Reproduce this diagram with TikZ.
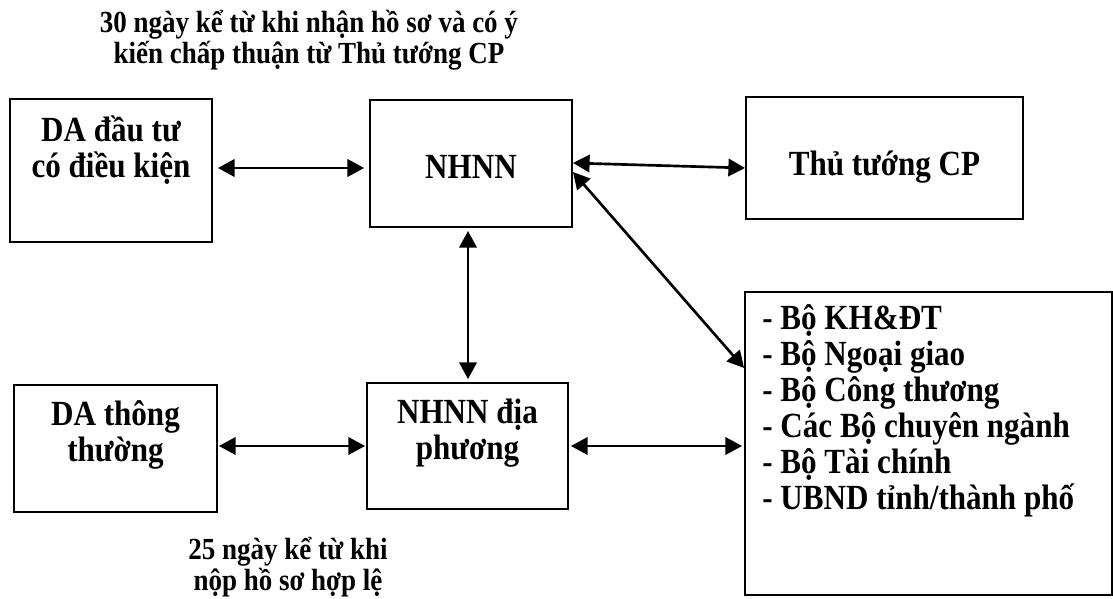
\documentclass[tikz,border=0pt]{standalone}
\usepackage{fontspec}
\setmainfont{Liberation Serif}[FakeStretch=0.88]
\usetikzlibrary{arrows.meta}
\begin{document}
\begin{tikzpicture}[x=0.75pt,y=-0.75pt,
  box/.style={draw, line width=1.4pt, rectangle, inner sep=0pt},
  lbl/.style={font=\fontsize{26.5pt}{27pt}\selectfont\bfseries, align=center, inner sep=0pt},
  ttl/.style={font=\fontsize{23pt}{23.5pt}\selectfont\bfseries, align=center, inner sep=0pt},
  dbl/.style={line width=2pt, {Triangle[length=12.5pt,width=13pt]}-{Triangle[length=12.5pt,width=13pt]}}
]
\useasboundingbox (0,0) rectangle (1113,599);

\node[box, minimum width=151.5pt, minimum height=107.25pt,
  label={[lbl, yshift=15.4pt]center:DA đầu tư\\có điều kiện}] (da1) at (111,170.5) {};
\node[box, minimum width=151.5pt, minimum height=95.25pt,
  label={[lbl, yshift=-2.6pt]center:NHNN}] (nhnn) at (471,163.5) {};
\node[box, minimum width=207.75pt, minimum height=91.5pt,
  label={[lbl, yshift=-6.75pt]center:Thủ tướng CP}] (tt) at (884.5,158) {};
\node[box, minimum width=152.25pt, minimum height=95.25pt,
  label={[lbl, yshift=10.5pt]center:DA thông\\thường}] (da2) at (115.5,448.5) {};
\node[box, minimum width=150.75pt, minimum height=94.5pt,
  label={[lbl, yshift=9.4pt]center:NHNN địa\\phương}] (dp) at (467.5,446) {};
\node[box, minimum width=275.25pt, minimum height=227.25pt,
  label={[lbl, align=left, anchor=west, xshift=13.5pt, yshift=24.75pt]west:- Bộ KH\&ĐT\\- Bộ Ngoại giao\\- Bộ Công thương\\- Các Bộ chuyên ngành\\- Bộ Tài chính\\- UBND tỉnh/thành phố}] (bo) at (928.5,443.5) {};

\node[ttl] (t1) at (309,40) {30 ngày kể từ khi nhận hồ sơ và có ý\\kiến chấp thuận từ Thủ tướng CP};
\node[ttl] (t2) at (288,567) {25 ngày kể từ khi\\nộp hồ sơ hợp lệ};

\draw[dbl] ([xshift=3.75pt]da1.east |- 0,168) -- ([xshift=-3.75pt]nhnn.west |- 0,168);
\draw[dbl] (nhnn.east |- 0,163) -- (tt.west |- 0,168);
\draw[dbl] (nhnn.east |- 0,172) -- (bo.west |- 0,368);
\draw[dbl] ([yshift=-2.25pt]468,0 |- nhnn.south) -- ([yshift=2.25pt]468,0 |- dp.north);
\draw[dbl] ([xshift=0.75pt]da2.east |- 0,446) -- ([xshift=-0.75pt]dp.west |- 0,446);
\draw[dbl] ([xshift=1.5pt]dp.east |- 0,446) -- ([xshift=-1.5pt]bo.west |- 0,446);
\end{tikzpicture}
\end{document}
